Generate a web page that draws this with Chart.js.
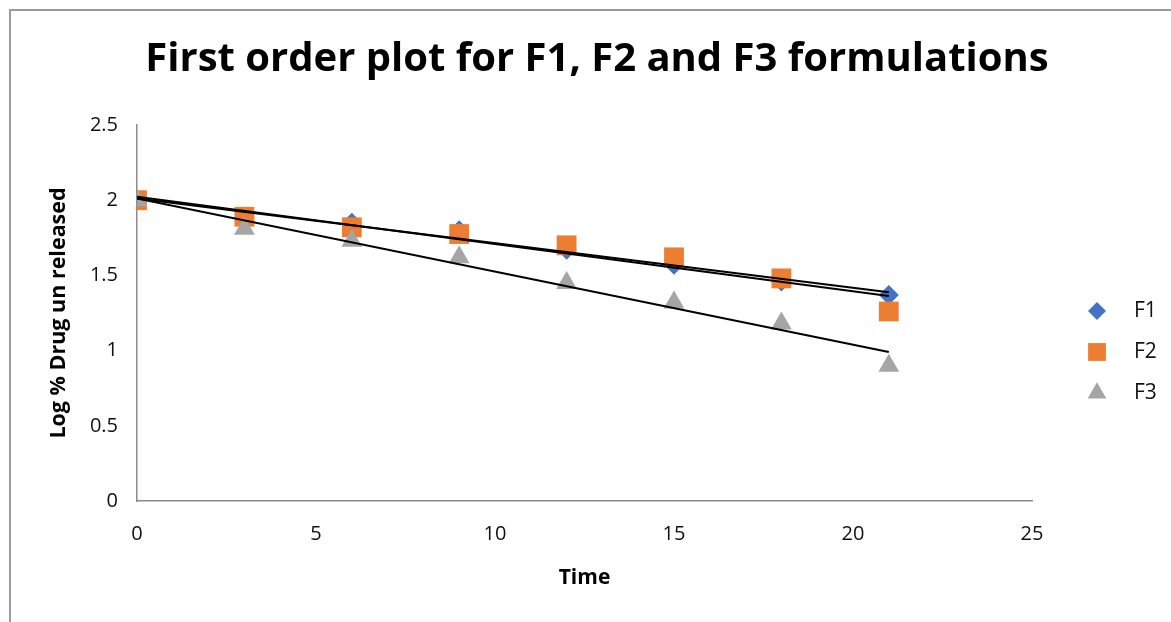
<!DOCTYPE html>
<html>
<head>
<meta charset="utf-8">
<script src="https://cdn.jsdelivr.net/npm/chart.js@4/dist/chart.umd.min.js"></script>
<style>
  html, body { margin: 0; padding: 0; background: #fff; overflow: hidden; }
  #wrap { position: relative; width: 1171px; height: 622px; }
</style>
</head>
<body>
<div id="wrap"><canvas id="chart" width="1171" height="622"></canvas></div>
<script>
const FONT = "'Open Sans', 'Noto Sans', sans-serif";

// sampling times (x) and log % drug unreleased per formulation
const times = [0, 3, 6, 9, 12, 15, 18, 21];
const f1 = [2.0, 1.88, 1.85, 1.80, 1.67, 1.57, 1.46, 1.37];
const f2 = [2.0, 1.89, 1.82, 1.775, 1.70, 1.62, 1.48, 1.26];
const f3 = [2.0, 1.81, 1.73, 1.62, 1.45, 1.32, 1.18, 0.90];
const seriesNames = ["F1", "F2", "F3"];

const xTicks = [0, 5, 10, 15, 20, 25];
const yTicks = [0, 0.5, 1, 1.5, 2, 2.5];

function points(ys) {
  return times.map((t, i) => ({ x: t, y: ys[i] }));
}

// least squares line over the series, drawn from first to last time
function fitLine(ys) {
  const n = times.length;
  const mx = times.reduce((a, b) => a + b, 0) / n;
  const my = ys.reduce((a, b) => a + b, 0) / n;
  let sxy = 0, sxx = 0;
  times.forEach((t, i) => {
    sxy += (t - mx) * (ys[i] - my);
    sxx += (t - mx) * (t - mx);
  });
  const m = sxy / sxx, b = my - m * mx;
  const x0 = times[0], x1 = times[n - 1];
  return [{ x: x0, y: b + m * x0 }, { x: x1, y: b + m * x1 }];
}

function markers(label, ys, color, style, radius, order) {
  return {
    label,
    data: points(ys),
    showLine: false,
    pointStyle: style,
    pointRadius: radius,
    pointHoverRadius: radius,
    pointBackgroundColor: color,
    pointBorderWidth: 0,
    backgroundColor: color,
    borderColor: color,
    legendRadius: radius,
    order
  };
}

function trend(ys, order) {
  return {
    label: "trend",
    trend: true,
    data: fitLine(ys),
    showLine: true,
    borderColor: "#000",
    borderWidth: 2,
    pointRadius: 0,
    pointHoverRadius: 0,
    order
  };
}

const datasets = [
  markers(seriesNames[0], f1, "#4472C4", "rectRot", 10, 6),
  markers(seriesNames[1], f2, "#ED7D31", "rect", 14, 5),
  markers(seriesNames[2], f3, "#A5A5A5", "triangle", 12, 4),
  trend(f1, 3),
  trend(f2, 2),
  trend(f3, 1)
];

// outer frame of the chart box
const frame = {
  id: "frame",
  beforeDraw(chart) {
    const ctx = chart.ctx;
    ctx.save();
    ctx.strokeStyle = "#9a9a9a";
    ctx.lineWidth = 2;
    ctx.beginPath();
    ctx.moveTo(10, 700);
    ctx.lineTo(10, 10);
    ctx.lineTo(1300, 10);
    ctx.stroke();
    ctx.restore();
  }
};

// legend on the right side, markers only (trend lines left out)
const sideLegend = {
  id: "sideLegend",
  afterDraw(chart, args, opts) {
    const ctx = chart.ctx;
    const items = chart.data.datasets.filter(d => !d.trend);
    ctx.save();
    items.forEach((d, i) => {
      const y = opts.top + i * opts.gap;
      ctx.fillStyle = d.backgroundColor;
      ctx.strokeStyle = d.backgroundColor;
      Chart.helpers.drawPoint(ctx, {
        pointStyle: d.pointStyle,
        radius: d.legendRadius * 0.9,
        borderWidth: 0,
        rotation: 0
      }, opts.x, y);
      ctx.fillStyle = "#111";
      ctx.font = "21px " + FONT;
      ctx.textAlign = "left";
      ctx.textBaseline = "middle";
      ctx.fillText(d.label, opts.textX, y);
    });
    ctx.restore();
  }
};

new Chart(document.getElementById("chart"), {
  type: "scatter",
  data: { datasets },
  plugins: [frame, sideLegend],
  options: {
    responsive: false,
    animation: false,
    layout: { padding: { left: 23, right: 0, top: 0, bottom: 0 } },
    plugins: {
      legend: { display: false },
      tooltip: { enabled: false },
      title: {
        display: true,
        text: "First order plot for F1, F2 and F3 formulations",
        color: "#000",
        font: { family: FONT, size: 40, weight: "bold" },
        padding: { top: 36, bottom: 41 }
      },
      sideLegend: { x: 1097, textX: 1134, top: 311, gap: 41 }
    },
    scales: {
      x: {
        type: "linear",
        min: 0,
        max: 25,
        afterBuildTicks: s => { s.ticks = xTicks.map(v => ({ value: v })); },
        afterFit: s => { s.height = 121; },
        grid: { display: false, drawTicks: false },
        border: { display: true, color: "#8c8c8c", width: 1.5 },
        ticks: {
          color: "#111",
          padding: 21,
          font: { family: FONT, size: 20 },
          callback: v => String(v)
        },
        title: {
          display: true,
          text: "Time",
          color: "#000",
          font: { family: FONT, size: 21, weight: "bold" },
          padding: { top: 0, bottom: 31 }
        }
      },
      y: {
        type: "linear",
        min: 0,
        max: 2.5,
        afterBuildTicks: s => { s.ticks = yTicks.map(v => ({ value: v })); },
        afterFit: s => { s.width = 114; },
        grid: { display: false, drawTicks: false },
        border: { display: true, color: "#8c8c8c", width: 1.5 },
        ticks: {
          color: "#111",
          padding: 19,
          font: { family: FONT, size: 20 },
          callback: v => String(v)
        },
        title: {
          display: true,
          text: "Log % Drug un released",
          color: "#000",
          font: { family: FONT, size: 21.5, weight: "bold" },
          padding: { top: 23, bottom: 0 }
        }
      },
      // empty band on the right that holds the legend
      legendBand: {
        type: "linear",
        position: "right",
        display: true,
        afterFit: s => { s.width = 139; },
        grid: { display: false, drawTicks: false },
        border: { display: false },
        ticks: { display: false }
      }
    }
  }
});
</script>
</body>
</html>
